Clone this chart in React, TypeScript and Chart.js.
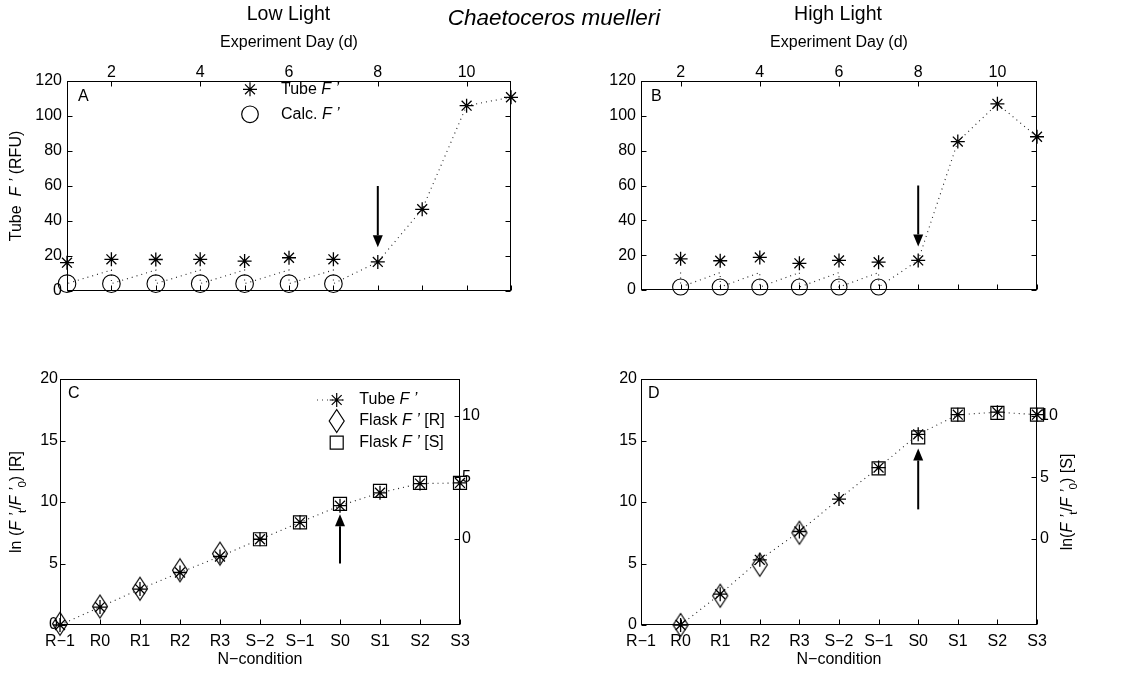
import React, { useEffect, useRef } from 'react';
import { Chart, registerables } from 'chart.js';

Chart.register(...registerables);

const FONT = "'Liberation Sans', Arial, Helvetica, sans-serif";
Chart.defaults.font.family = FONT;
Chart.defaults.color = '#000';

// ---------------- Panels A & B : Tube F' (RFU) vs experiment day ----------------
const topDayTicks = [2, 4, 6, 8, 10];
const bottomDayTicks = [1, 2, 3, 4, 5, 6, 7, 8, 9, 10, 11];
const rfuTicks = [0, 20, 40, 60, 80, 100, 120];

const daysA = [1, 2, 3, 4, 5, 6, 7, 8, 9, 10, 11];
const tubeA = [16.2, 18.1, 18.0, 18.1, 17.1, 19.0, 18.1, 16.6, 46.7, 105.9, 110.7];
const calcDaysA = [1, 2, 3, 4, 5, 6, 7];
const calcA = [4.2, 4.2, 4.2, 4.2, 4.2, 4.2, 4.2];
const traceDaysA = [1, 1, 2, 2, 3, 3, 4, 4, 5, 5, 6, 6, 7, 7, 8, 9, 10, 11];
const traceA = [12, 4.2, 12, 4.2, 12, 4.2, 12, 4.2, 12, 4.2, 12, 4.2, 12, 4.2, 16.6, 46.7, 105.9, 110.7];

const daysB = [2, 3, 4, 5, 6, 7, 8, 9, 10, 11];
const tubeB = [17.9, 16.8, 18.7, 15.3, 17.0, 16.0, 17.0, 85.2, 106.9, 88.0];
const calcDaysB = [2, 3, 4, 5, 6, 7];
const calcB = [1.7, 1.7, 1.7, 1.7, 1.7, 1.7];
const traceDaysB = [2, 2, 3, 3, 4, 4, 5, 5, 6, 6, 7, 7, 8, 9, 10, 11];
const traceB = [10, 1.7, 10, 1.7, 10, 1.7, 10, 1.7, 10, 1.7, 10, 1.7, 17.0, 85.2, 106.9, 88.0];

const arrowDay = 8;
const arrowRfu = [60, 25]; // from, tip

// ---------------- Panels C & D : ln(F't/F'0) vs N-condition ----------------
const conditions = ['R−1', 'R0', 'R1', 'R2', 'R3', 'S−2', 'S−1', 'S0', 'S1', 'S2', 'S3'];
const lnLeftTicks = [0, 5, 10, 15, 20];
const lnRightTicks = [0, 5, 10];

const tubeC = [0.0, 1.46, 2.92, 4.27, 5.57, 6.97, 8.35, 9.7, 10.75, 11.5, 11.55];
const flaskRC = [0.1, 1.5, 2.95, 4.45, 5.8, null, null, null, null, null, null];
const flaskSC = [null, null, null, null, null, -0.03, 1.35, 2.84, 3.9, 4.55, 4.55];

const tubeD = [null, 0.0, 2.51, 5.3, 7.6, 10.24, 12.8, 15.5, 17.1, 17.3, 17.1];
const flaskRD = [null, 0.0, 2.38, 4.9, 7.5, null, null, null, null, null, null];
const flaskSD = [null, null, null, null, null, null, 5.73, 8.25, 10.1, 10.25, 10.1];

const arrowCondition = 'S0';
const arrowC = [5.0, 9.0];
const arrowD = [9.4, 14.35];

// ---------------- helpers ----------------
type Seg = { t: string; i?: boolean; sub?: boolean };
type Txt = { segs: Seg[]; x: number; y: number; size: number; align?: 'left' | 'center'; rot?: number };

function drawRich(ctx: any, tx: Txt) {
  const size = tx.size;
  const fontFor = (s: Seg) => `${s.i ? 'italic ' : ''}${s.sub ? size * 0.72 : size}px ${FONT}`;
  ctx.save();
  ctx.translate(tx.x, tx.y);
  if (tx.rot) ctx.rotate(tx.rot);
  let total = 0;
  const ws = tx.segs.map((s) => {
    ctx.font = fontFor(s);
    const w = ctx.measureText(s.t).width;
    total += w;
    return w;
  });
  let cx = tx.align === 'left' ? 0 : -total / 2;
  ctx.textBaseline = 'middle';
  ctx.textAlign = 'left';
  ctx.fillStyle = '#000';
  tx.segs.forEach((s, k) => {
    ctx.font = fontFor(s);
    ctx.fillText(s.t, cx, s.sub ? size * 0.38 : 0);
    cx += ws[k];
  });
  ctx.restore();
}

function drawMarker(ctx: any, kind: string, x: number, y: number) {
  ctx.save();
  ctx.strokeStyle = '#000';
  ctx.lineWidth = 1.2;
  ctx.setLineDash([]);
  ctx.beginPath();
  if (kind === 'star') {
    const r = 7;
    const d = r * Math.SQRT1_2;
    ctx.moveTo(x - r, y); ctx.lineTo(x + r, y);
    ctx.moveTo(x, y - r); ctx.lineTo(x, y + r);
    ctx.moveTo(x - d, y - d); ctx.lineTo(x + d, y + d);
    ctx.moveTo(x - d, y + d); ctx.lineTo(x + d, y - d);
  } else if (kind === 'circle') {
    ctx.arc(x, y, 8.3, 0, Math.PI * 2);
  } else if (kind === 'diamond') {
    ctx.moveTo(x, y - 11.5); ctx.lineTo(x + 7.5, y); ctx.lineTo(x, y + 11.5); ctx.lineTo(x - 7.5, y); ctx.closePath();
  } else if (kind === 'square') {
    ctx.rect(x - 6.5, y - 6.5, 13, 13);
  }
  ctx.stroke();
  ctx.restore();
}

function diamondCanvas() {
  const c = document.createElement('canvas');
  c.width = 18; c.height = 26;
  const g = c.getContext('2d')!;
  g.strokeStyle = '#000';
  g.lineWidth = 1.2;
  g.beginPath();
  g.moveTo(9, 1.5); g.lineTo(16.5, 13); g.lineTo(9, 24.5); g.lineTo(1.5, 13); g.closePath();
  g.stroke();
  return c;
}

const fixW = (w: number) => (s: any) => { s.width = w; };
const fixH = (h: number) => (s: any) => { s.height = h; };
const useTicks = (vals: number[]) => (s: any) => { s.ticks = vals.map((v) => ({ value: v })); };
const tickFont = { family: FONT, size: 16 };
const noGrid = { display: false, drawTicks: false };
const noBorder = { display: false };

type Legend = { kind: string; x: number; y: number; tx: number; segs: Seg[]; line?: [number, number] };
type Decor = {
  ticks: { id: string; sides: string[] }[];
  arrow: { x: number; from: number; to: number; yId: string };
  texts: Txt[];
  legend: Legend[];
};

function decorPlugin(spec: Decor) {
  return {
    id: 'decor',
    afterDraw(chart: any) {
      const ctx = chart.ctx;
      const ca = chart.chartArea;
      ctx.save();
      ctx.strokeStyle = '#000';
      ctx.lineWidth = 1;
      const L = Math.round(ca.left) + 0.5, R = Math.round(ca.right) - 0.5;
      const T = Math.round(ca.top) + 0.5, B = Math.round(ca.bottom) - 0.5;
      ctx.strokeRect(L, T, R - L, B - T);
      const TL = 5;
      ctx.beginPath();
      spec.ticks.forEach((t) => {
        const s = chart.scales[t.id];
        s.ticks.forEach((_: any, i: number) => {
          const p = Math.round(s.getPixelForTick(i)) + 0.5;
          t.sides.forEach((side) => {
            if (side === 'left') { ctx.moveTo(L, p); ctx.lineTo(L + TL, p); }
            if (side === 'right') { ctx.moveTo(R, p); ctx.lineTo(R - TL, p); }
            if (side === 'top') { ctx.moveTo(p, T); ctx.lineTo(p, T + TL); }
            if (side === 'bottom') { ctx.moveTo(p, B); ctx.lineTo(p, B - TL); }
          });
        });
      });
      ctx.stroke();

      // arrow
      const a = spec.arrow;
      const ax = chart.scales.x.getPixelForValue(a.x);
      const y1 = chart.scales[a.yId].getPixelForValue(a.from);
      const y2 = chart.scales[a.yId].getPixelForValue(a.to);
      const dir = y2 > y1 ? 1 : -1;
      const headL = 12, headW = 5;
      ctx.beginPath();
      ctx.lineWidth = 2;
      ctx.moveTo(ax, y1);
      ctx.lineTo(ax, y2 - dir * headL);
      ctx.stroke();
      ctx.beginPath();
      ctx.fillStyle = '#000';
      ctx.moveTo(ax, y2);
      ctx.lineTo(ax - headW, y2 - dir * headL);
      ctx.lineTo(ax + headW, y2 - dir * headL);
      ctx.closePath();
      ctx.fill();
      ctx.restore();

      // legend
      spec.legend.forEach((lg) => {
        if (lg.line) {
          ctx.save();
          ctx.strokeStyle = '#333';
          ctx.lineWidth = 1;
          ctx.setLineDash([1, 4]);
          ctx.beginPath();
          ctx.moveTo(lg.line[0], lg.y);
          ctx.lineTo(lg.line[1], lg.y);
          ctx.stroke();
          ctx.restore();
        }
        drawMarker(ctx, lg.kind, lg.x, lg.y);
        drawRich(ctx, { segs: lg.segs, x: lg.tx, y: lg.y, size: 16, align: 'left' });
      });
      spec.texts.forEach((t) => drawRich(ctx, t));
    },
  };
}

const fPrime: Seg[] = [{ t: 'F', i: true }, { t: ' ’', i: true }];

function topPanel(o: any) {
  return {
    type: 'scatter',
    data: {
      datasets: [
        {
          label: 'trace',
          data: o.traceDays.map((d: number, i: number) => ({ x: d, y: o.trace[i] })),
          showLine: true,
          borderColor: '#222',
          borderWidth: 1.1,
          borderDash: [1, 4],
          pointRadius: 0,
          tension: 0,
          fill: false,
        },
        {
          label: 'Calc. F',
          data: o.calcDays.map((d: number, i: number) => ({ x: d, y: o.calc[i] })),
          pointStyle: 'circle',
          pointRadius: o.circleR,
          borderColor: '#000',
          backgroundColor: 'rgba(0,0,0,0)',
          borderWidth: 1.1,
          clip: false,
        },
        {
          label: 'Tube F',
          data: o.days.map((d: number, i: number) => ({ x: d, y: o.tube[i] })),
          pointStyle: 'star',
          pointRadius: 7,
          borderColor: '#000',
          backgroundColor: '#000',
          borderWidth: 1.3,
          clip: false,
        },
      ],
    },
    options: {
      animation: false,
      responsive: false,
      devicePixelRatio: 1,
      events: [],
      layout: { padding: { left: o.padLeft, right: o.padRight, top: 0, bottom: 0 } },
      plugins: { legend: { display: false }, tooltip: { enabled: false }, title: { display: false } },
      scales: {
        x: {
          type: 'linear', position: 'bottom', min: 1, max: 11,
          afterBuildTicks: useTicks(bottomDayTicks), afterFit: fixH(o.bottomH),
          ticks: { display: false }, grid: noGrid, border: noBorder,
        },
        xTop: {
          type: 'linear', position: 'top', min: 1, max: 11,
          afterBuildTicks: useTicks(topDayTicks), afterFit: fixH(81),
          ticks: { font: tickFont, padding: -1, maxRotation: 0, color: '#000' }, grid: noGrid, border: noBorder,
        },
        y: {
          type: 'linear', position: 'left', min: 0, max: 120,
          afterBuildTicks: useTicks(rfuTicks), afterFit: fixW(o.yW),
          ticks: { font: tickFont, padding: 5, color: '#000' }, grid: noGrid, border: noBorder,
        },
      },
    },
    plugins: [decorPlugin(o.decor)],
  };
}

function bottomPanel(o: any) {
  const diamond = diamondCanvas();
  return {
    type: 'line',
    data: {
      labels: conditions,
      datasets: [
        {
          label: 'Tube F',
          data: o.tube,
          yAxisID: 'y',
          borderColor: '#222',
          borderWidth: 1.1,
          borderDash: [1, 4],
          pointStyle: 'star',
          pointRadius: 7,
          pointBorderColor: '#000',
          pointBackgroundColor: '#000',
          pointBorderWidth: 1.3,
          spanGaps: true,
          tension: 0,
          fill: false,
          clip: false,
        },
        {
          label: 'Flask F [R]',
          data: o.flaskR,
          yAxisID: 'y',
          showLine: false,
          pointStyle: diamond,
          pointRadius: 9,
          clip: false,
        },
        {
          label: 'Flask F [S]',
          data: o.flaskS,
          yAxisID: 'yR',
          showLine: false,
          pointStyle: 'rect',
          pointRadius: 9.2,
          pointBorderColor: '#000',
          pointBackgroundColor: 'rgba(0,0,0,0)',
          pointBorderWidth: 1.2,
          clip: false,
        },
      ],
    },
    options: {
      animation: false,
      responsive: false,
      devicePixelRatio: 1,
      events: [],
      layout: { padding: { left: o.padLeft, right: o.padRight, top: 379, bottom: 0 } },
      plugins: { legend: { display: false }, tooltip: { enabled: false }, title: { display: false } },
      scales: {
        x: {
          type: 'category', position: 'bottom', offset: false,
          afterFit: fixH(51),
          ticks: { font: tickFont, padding: 7, autoSkip: false, maxRotation: 0, color: '#000' },
          grid: { display: false, drawTicks: false, offset: false }, border: noBorder,
        },
        y: {
          type: 'linear', position: 'left', min: 0, max: 20,
          afterBuildTicks: useTicks(lnLeftTicks), afterFit: fixW(60),
          ticks: { font: tickFont, padding: o.leftPad, color: '#000' }, grid: noGrid, border: noBorder,
        },
        yR: {
          type: 'linear', position: 'right', min: -7, max: 13,
          afterBuildTicks: useTicks(lnRightTicks), afterFit: fixW(o.rW),
          ticks: { font: tickFont, padding: o.rightPad, color: '#000' }, grid: noGrid, border: noBorder,
        },
      },
    },
    plugins: [decorPlugin(o.decor)],
  };
}

const makeA = () =>
  topPanel({
    days: daysA, tube: tubeA, calcDays: calcDaysA, calc: calcA, traceDays: traceDaysA, trace: traceA,
    circleR: 8.8, padLeft: 0, yW: 67, padRight: 633, bottomH: 385,
    decor: {
      ticks: [
        { id: 'y', sides: ['left', 'right'] },
        { id: 'x', sides: ['bottom'] },
        { id: 'xTop', sides: ['top'] },
      ],
      arrow: { x: arrowDay, from: arrowRfu[0], to: arrowRfu[1], yId: 'y' },
      texts: [
        { segs: [{ t: 'Low Light' }], x: 288.5, y: 14.5, size: 19.5 },
        { segs: [{ t: 'Chaetoceros muelleri', i: true }], x: 554, y: 19, size: 22.5 },
        { segs: [{ t: 'Experiment Day (d)' }], x: 289, y: 43, size: 16 },
        { segs: [{ t: 'Tube  ' }, ...fPrime, { t: ' (RFU)' }], x: 17, y: 186, size: 16, rot: -Math.PI / 2 },
        { segs: [{ t: 'A' }], x: 78, y: 97, size: 16, align: 'left' },
      ],
      legend: [
        { kind: 'star', x: 250, y: 89.3, tx: 281, segs: [{ t: 'Tube ' }, ...fPrime] },
        { kind: 'circle', x: 250, y: 114.3, tx: 281, segs: [{ t: 'Calc. ' }, ...fPrime] },
      ],
    },
  });

const makeB = () =>
  topPanel({
    days: daysB, tube: tubeB, calcDays: calcDaysB, calc: calcB, traceDays: traceDaysB, trace: traceB,
    circleR: 8, padLeft: 581, yW: 60, padRight: 107, bottomH: 386,
    decor: {
      ticks: [
        { id: 'y', sides: ['left', 'right'] },
        { id: 'x', sides: ['bottom'] },
        { id: 'xTop', sides: ['top'] },
      ],
      arrow: { x: arrowDay, from: arrowRfu[0], to: arrowRfu[1], yId: 'y' },
      texts: [
        { segs: [{ t: 'High Light' }], x: 838, y: 14.5, size: 19.5 },
        { segs: [{ t: 'Experiment Day (d)' }], x: 839, y: 43, size: 16 },
        { segs: [{ t: 'B' }], x: 651, y: 97, size: 16, align: 'left' },
      ],
      legend: [],
    },
  });

const lnSegs = (sep: string, tail: string): Seg[] => [
  { t: 'ln' + sep + '(' },
  ...fPrime,
  { t: 't', sub: true },
  { t: '/' },
  ...fPrime,
  { t: '0', sub: true },
  { t: ') ' + tail },
];

const makeC = () =>
  bottomPanel({
    tube: tubeC, flaskR: flaskRC, flaskS: flaskSC,
    padLeft: 0, padRight: 644, rW: 40, leftPad: 2, rightPad: 2,
    decor: {
      ticks: [
        { id: 'y', sides: ['left'] },
        { id: 'yR', sides: ['right'] },
        { id: 'x', sides: ['bottom'] },
      ],
      arrow: { x: conditions.indexOf(arrowCondition), from: arrowC[0], to: arrowC[1], yId: 'y' },
      texts: [
        { segs: [{ t: 'N−condition' }], x: 260, y: 660, size: 16 },
        { segs: lnSegs(' ', '[R]'), x: 17, y: 502, size: 16, rot: -Math.PI / 2 },
        { segs: [{ t: 'C' }], x: 68, y: 394, size: 16, align: 'left' },
      ],
      legend: [
        { kind: 'star', x: 336.7, y: 400, tx: 359.3, segs: [{ t: 'Tube ' }, ...fPrime], line: [317, 347] },
        { kind: 'diamond', x: 336.7, y: 421, tx: 359.3, segs: [{ t: 'Flask ' }, ...fPrime, { t: ' [R]' }] },
        { kind: 'square', x: 336.7, y: 442.7, tx: 359.3, segs: [{ t: 'Flask ' }, ...fPrime, { t: ' [S]' }] },
      ],
    },
  });

const makeD = () =>
  bottomPanel({
    tube: tubeD, flaskR: flaskRD, flaskS: flaskSD,
    padLeft: 581, padRight: 57, rW: 50, leftPad: 4, rightPad: 3,
    decor: {
      ticks: [
        { id: 'y', sides: ['left'] },
        { id: 'yR', sides: ['right'] },
        { id: 'x', sides: ['bottom'] },
      ],
      arrow: { x: conditions.indexOf(arrowCondition), from: arrowD[0], to: arrowD[1], yId: 'y' },
      texts: [
        { segs: [{ t: 'N−condition' }], x: 839, y: 660, size: 16 },
        { segs: lnSegs('', '[S]'), x: 1068, y: 502, size: 16, rot: -Math.PI / 2 },
        { segs: [{ t: 'D' }], x: 648, y: 394, size: 16, align: 'left' },
      ],
      legend: [],
    },
  });

function Panel({ make }: { make: () => any }) {
  const ref = useRef<HTMLCanvasElement>(null);
  useEffect(() => {
    const chart = new Chart(ref.current as HTMLCanvasElement, make());
    return () => chart.destroy();
  }, [make]);
  return (
    <canvas
      ref={ref}
      width={1144}
      height={676}
      style={{ position: 'absolute', left: 0, top: 0, width: 1144, height: 676 }}
    />
  );
}

export default function App() {
  return (
    <div style={{ position: 'absolute', left: 0, top: 0, width: 1144, height: 676, background: '#fff', overflow: 'hidden' }}>
      <Panel make={makeA} />
      <Panel make={makeB} />
      <Panel make={makeC} />
      <Panel make={makeD} />
    </div>
  );
}
